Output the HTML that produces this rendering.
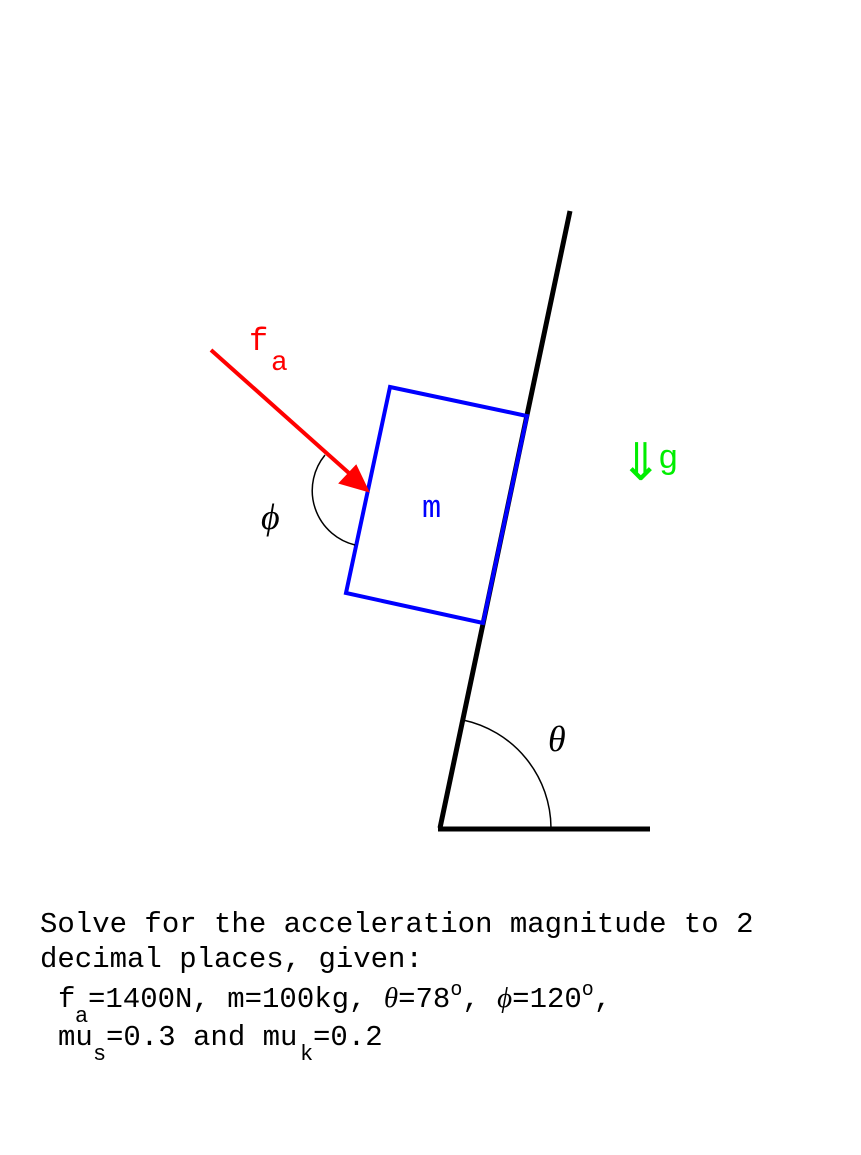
<!DOCTYPE html>
<html><head><style>body{margin:0;background:#fff}svg{display:block}</style></head><body>
<svg width="861" height="1155" xmlns="http://www.w3.org/2000/svg">
<rect width="861" height="1155" fill="#fff"/>
<line x1="440" y1="828" x2="570" y2="211" stroke="#000" stroke-width="5"/>
<line x1="438" y1="829" x2="650" y2="829" stroke="#000" stroke-width="5"/>
<path d="M551 828 A111 111 0 0 0 463 720" fill="none" stroke="#000" stroke-width="1.5"/>
<polygon points="390,387 527,416 483,623 346,593" fill="none" stroke="#0000ff" stroke-width="4"/>
<path d="M325 455 A56 56 0 0 0 355 545" fill="none" stroke="#000" stroke-width="1.5"/>
<line x1="211" y1="350" x2="350" y2="474" stroke="#ff0000" stroke-width="4"/>
<polygon points="368,491 340,483 356,466" fill="#ff0000" stroke="#ff0000" stroke-width="2"/>
<g font-family="Liberation Mono, monospace">
<text x="249" y="350" font-size="32" fill="#ff0000">f</text>
<text x="271" y="370" font-size="28" fill="#ff0000">a</text>
<text x="422" y="517" font-size="32" fill="#0000ff">m</text>
<text x="658" y="468" font-size="34" fill="#00ee00">g</text>
</g>
<text x="619" y="480" font-family="DejaVu Sans, sans-serif" font-size="52" fill="#00ee00">⇓</text>
<text x="261" y="529" font-family="Liberation Serif, serif" font-style="italic" font-size="36">ϕ</text>
<text x="548" y="751" font-family="Liberation Serif, serif" font-style="italic" font-size="36">θ</text>
<g font-family="Liberation Mono, monospace" font-size="29" fill="#000">
<text x="40" y="932">Solve for the acceleration magnitude to 2</text>
<text x="40" y="967">decimal places, given:</text>
<text x="58" y="1007">f</text>
<text x="75" y="1022" font-size="22">a</text>
<text x="88" y="1007">=1400N, m=100kg, <tspan font-family="Liberation Serif, serif" font-style="italic">θ</tspan>=78<tspan font-size="20" dy="-12">o</tspan><tspan dy="12">, </tspan><tspan font-family="Liberation Serif, serif" font-style="italic">ϕ</tspan>=120<tspan font-size="20" dy="-12">o</tspan><tspan dy="12">,</tspan></text>
<text x="58" y="1045">mu</text>
<text x="93" y="1060" font-size="22">s</text>
<text x="106" y="1045">=0.3 and mu</text>
<text x="300" y="1060" font-size="22">k</text>
<text x="313" y="1045">=0.2</text>
</g>
</svg>
</body></html>
